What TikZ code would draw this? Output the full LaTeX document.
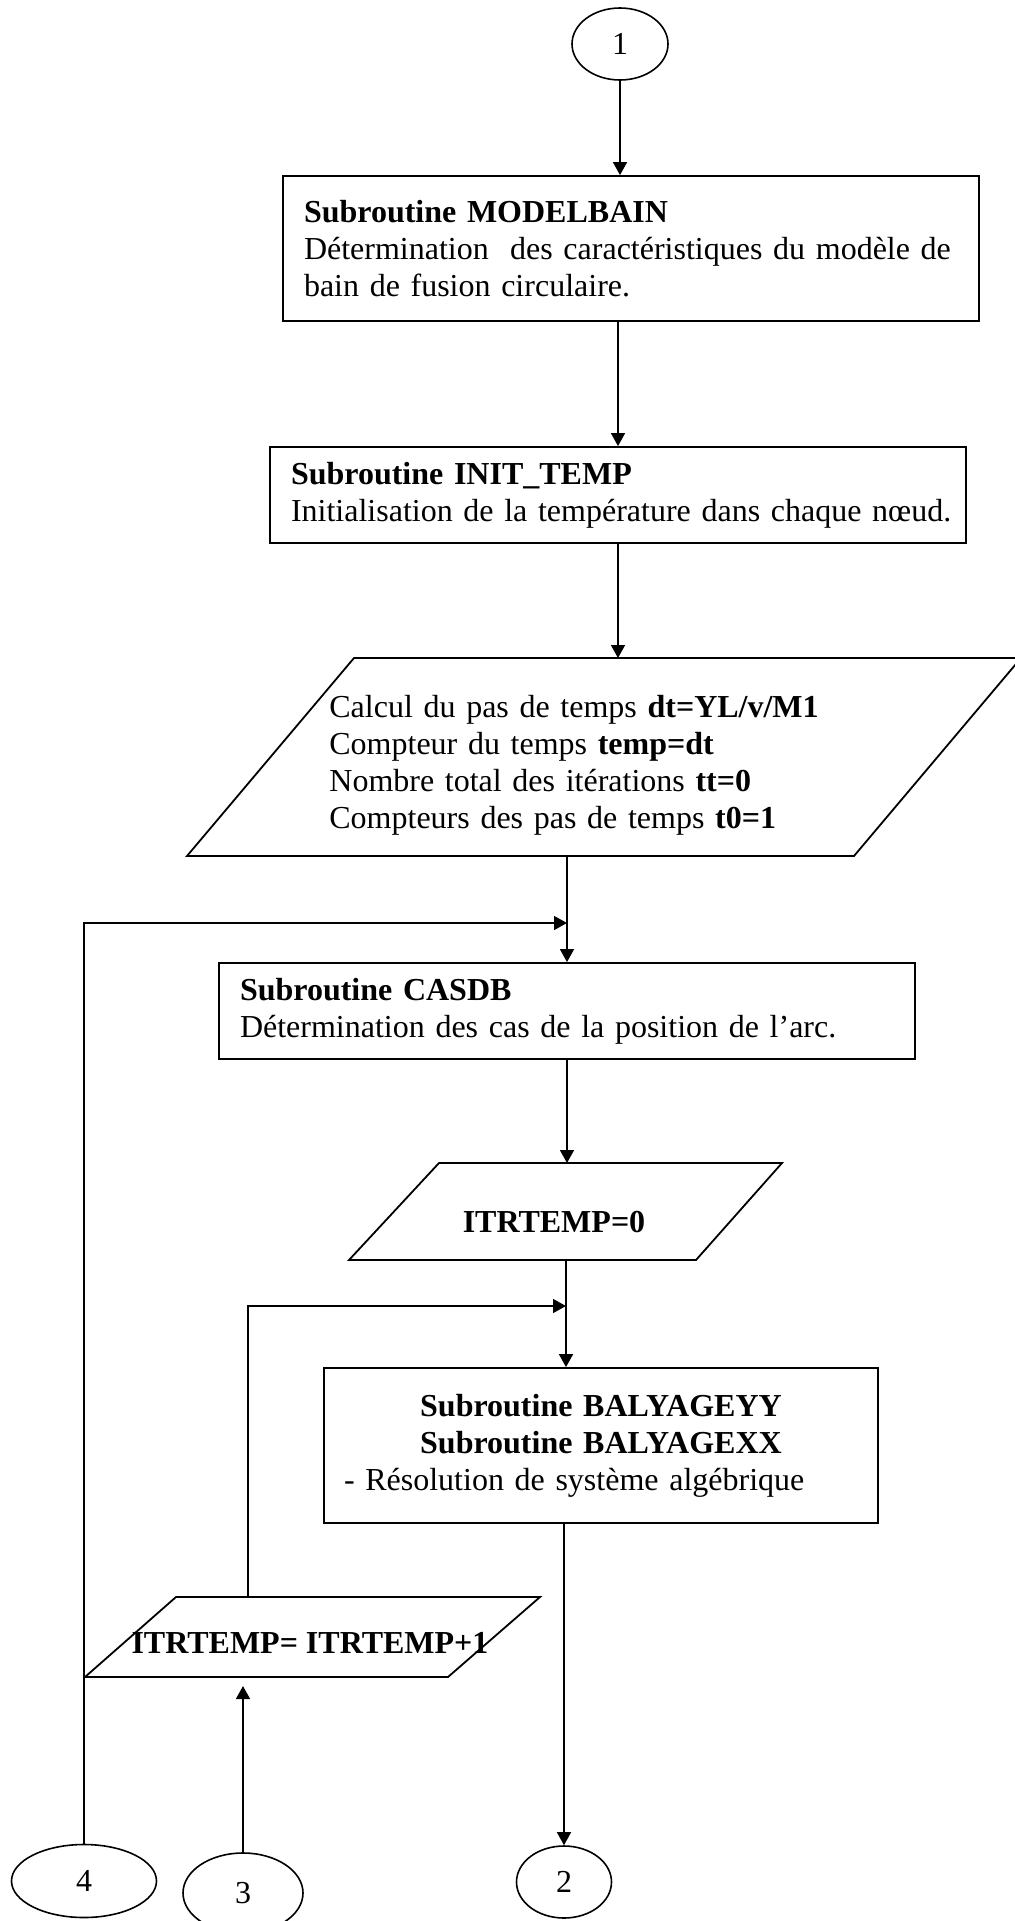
\documentclass[tikz,border=0pt]{standalone}
\usepackage{fontspec}
\setmainfont{Liberation Serif}
\usetikzlibrary{arrows.meta,shapes.geometric}
\begin{document}
\begin{tikzpicture}[x=0.5pt,y=-0.5pt,
  font=\fontsize{16}{18.5}\selectfont,
  conn/.style={draw, line width=0.75pt},
  arr/.style={conn, -{Triangle[width=7pt,length=6.5pt]}},
  procbox/.style={draw, line width=0.9pt, rectangle, inner xsep=10.5pt, inner ysep=0pt, align=left},
  iobox/.style={draw, line width=0.9pt},
  conncircle/.style={draw, line width=0.8pt, ellipse, inner sep=0pt}]
\useasboundingbox (0,0) rectangle (1014,1921);

% connector circles
\node[conncircle, minimum width=48pt, minimum height=36pt] (c1) at (620,44) {1};
\node[conncircle, minimum width=72.5pt, minimum height=36.5pt] (c4) at (84,1881) {4};
\node[conncircle, minimum width=60pt, minimum height=40pt] (c3) at (243,1893) {3};
\node[conncircle, minimum width=47.5pt, minimum height=36pt] (c2) at (564,1882) {2};

% process boxes
\node[procbox, text width=327pt, minimum height=72.5pt] (b1) at (631,248.5)
  {\mbox{\textbf{Subroutine MODELBAIN}}\\
   \mbox{Détermination~ des caractéristiques du modèle de}\\
   \mbox{bain de fusion circulaire.}};
\node[procbox, text width=327pt, minimum height=48pt] (b2) at (618,495)
  {\mbox{\textbf{Subroutine INIT\_TEMP}}\\
   \mbox{Initialisation de la température dans chaque nœud.}};
\node[procbox, text width=327pt, minimum height=48pt] (b3) at (567,1011)
  {\mbox{\textbf{Subroutine CASDB}}\\
   \mbox{Détermination des cas de la position de l’arc.}};
\node[procbox, inner xsep=10pt, text width=257pt, minimum height=77.5pt, align=center] (b4) at (601,1445.5)
  {\textbf{Subroutine BALYAGEYY}\\
   \textbf{Subroutine BALYAGEXX}\\
   \makebox[\linewidth][l]{- Résolution de système algébrique}};

% input/output parallelograms
\draw[iobox] (354,658) -- (1021,658) -- (854,856) -- (187,856) -- cycle;
\node[anchor=west, inner sep=0pt, text width=245pt, align=left] (t1) at (329,765)
  {\mbox{Calcul du pas de temps \textbf{dt=YL/v/M1}}\\
   \mbox{Compteur du temps \textbf{temp=dt}}\\
   \mbox{Nombre total des itérations \textbf{tt=0}}\\
   \mbox{Compteurs des pas de temps \textbf{t0=1}}};
\coordinate (p1top) at (618,658);
\coordinate (p1bot) at (567,856);

\draw[iobox] (439,1163) -- (782,1163) -- (696,1260) -- (349,1260) -- cycle;
\node[inner sep=0pt] (t2) at (554,1222) {\textbf{ITRTEMP=0}};
\coordinate (p2top) at (567,1163);
\coordinate (p2bot) at (566,1260);

\draw[iobox] (176,1597) -- (540,1597) -- (448,1677) -- (85,1677) -- cycle;
\node[inner sep=0pt] (t3) at (310,1643) {\textbf{ITRTEMP= ITRTEMP+1}};
\coordinate (p3top) at (248,1597);
\coordinate (p3bot) at (243,1677);

% junctions of the loops
\coordinate (j1) at (567,923);
\coordinate (j2) at (566,1306);

% connectors
\draw[arr] (c1.south) -- (c1.south |- b1.north);
\draw[arr] (b2.north |- b1.south) -- (b2.north);
\draw[arr] (b2.south) -- (p1top);
\draw[arr] (p1bot) -- (p1bot |- b3.north);
\draw[arr] (b3.south) -- (p2top);
\draw[arr] (p2bot) -- (p2bot |- b4.north);
\draw[arr] (c2.north |- b4.south) -- (c2.north);
\draw[arr] (c4.north) -- (c4.north |- j1) -- (j1);
\draw[arr] (p3top) -- (p3top |- j2) -- (j2);
\draw[arr, shorten >=4.5pt] (c3.north) -- (c3.north |- p3bot);
\end{tikzpicture}
\end{document}
